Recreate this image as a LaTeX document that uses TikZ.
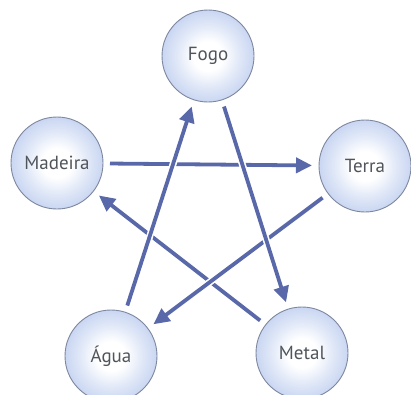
\documentclass[tikz,border=0pt]{standalone}
\usepackage{fontspec}
\setmainfont{PT Sans}
\usetikzlibrary{arrows.meta}
\definecolor{arrowblue}{HTML}{5868A8}
\definecolor{ringblue}{HTML}{7D879E}
\definecolor{txtgray}{HTML}{50555C}
\pgfdeclareradialshading{orb}{\pgfpoint{0bp}{0bp}}{
  rgb(0bp)=(1,1,1); rgb(8bp)=(1,1,1); rgb(17bp)=(0.88,0.91,0.97);
  rgb(25bp)=(0.79,0.84,0.95); rgb(50bp)=(0.79,0.84,0.95)}
\tikzset{
  element/.style={circle, minimum size=92pt, inner sep=0pt, draw=ringblue, line width=0.9pt,
    shading=orb, text=txtgray, font=\fontsize{19}{21}\selectfont,
    outer sep=7pt},
  flow/.style={draw=arrowblue, line width=3.8pt, -{Triangle[width=15pt,length=16pt]},
    preaction={draw=white, line width=7pt, -{}, shorten >=4pt}},
}
\begin{document}
\begin{tikzpicture}[x=1pt,y=-1pt]
\useasboundingbox (0,0) rectangle (411,394);
\node[element] (fogo) at (208,56) {Fogo};
\node[element] (madeira) at (57,163) {Madeira};
\node[element] (terra) at (365,166) {Terra};
\node[element] (agua) at (111,356) {Água};
\node[element] (metal) at (302,353) {Metal};
\draw[flow] (metal) -- (madeira);
\draw[flow] (terra) -- (agua);
\draw[flow] (madeira) -- (terra);
\draw[flow] (agua) -- (fogo);
\draw[flow] (fogo) -- (metal);
\end{tikzpicture}
\end{document}
